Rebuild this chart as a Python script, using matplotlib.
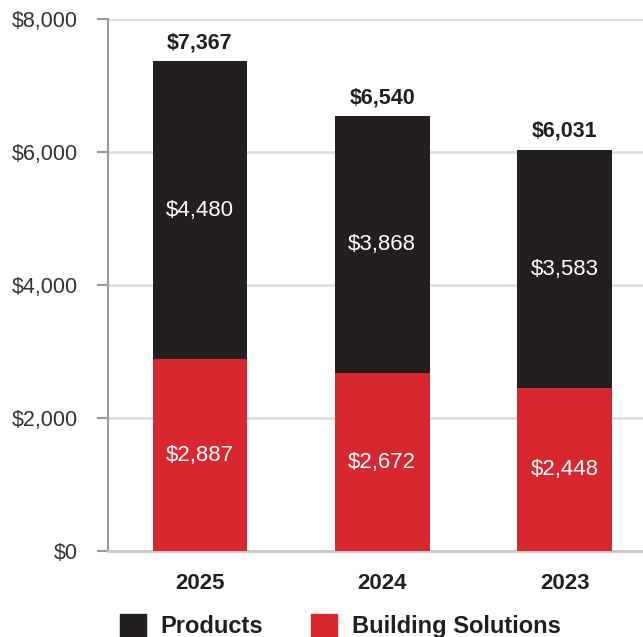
import matplotlib
matplotlib.use('Agg')
from matplotlib import pyplot as plt
from matplotlib.patches import Patch

plt.rcParams['font.family'] = ['Liberation Sans', 'DejaVu Sans']

years = ['2025', '2024', '2023']
building = [2887, 2672, 2448]
products = [4480, 3868, 3583]
totals = [7367, 6540, 6031]

black = '#231f20'
red = '#d7282f'

fig = plt.figure(figsize=(6.43, 6.37), dpi=100)
ax = fig.add_axes([0.168, 0.135, 0.832, 0.835])

x = list(range(len(years)))
ax.bar(x, building, width=0.52, color=red, zorder=3)
ax.bar(x, products, width=0.52, bottom=building, color=black, zorder=3)

for i in x:
    ax.text(i, building[i] / 2, '${:,}'.format(building[i]), color='white',
            ha='center', va='center', fontsize=16, zorder=4)
    ax.text(i, building[i] + products[i] / 2, '${:,}'.format(products[i]),
            color='white', ha='center', va='center', fontsize=16, zorder=4)
    ax.text(i, totals[i] + 280, '${:,}'.format(totals[i]), color=black,
            ha='center', va='center', fontsize=15.5, fontweight='bold')

ax.set_xlim(-0.504, 2.43)
ax.set_ylim(0, 8000)
ax.set_yticks([0, 2000, 4000, 6000, 8000])
ax.set_yticklabels(['${:,}'.format(v) for v in [0, 2000, 4000, 6000, 8000]])
ax.set_xticks(x)
ax.set_xticklabels(years, fontweight='bold', fontsize=16, color=black)

ax.grid(axis='y', color='#dcdcdc', linewidth=1.8, zorder=0)
for s in ['top', 'right']:
    ax.spines[s].set_visible(False)
ax.spines['left'].set_color('#9a9a9a')
ax.spines['left'].set_linewidth(1.5)
ax.spines['bottom'].set_color('#c8c8c8')
ax.spines['bottom'].set_linewidth(2)
ax.tick_params(axis='y', length=8, width=1.5, color='#9a9a9a', pad=14,
               labelsize=15.5, labelcolor='#333333')
ax.tick_params(axis='x', length=0, pad=16)

handles = [Patch(color=black, label='Products'),
           Patch(color=red, label='Building Solutions')]
leg = fig.legend(handles=handles, loc='center', bbox_to_anchor=(0.529, 0.017),
                 ncol=2, frameon=False, handlelength=1.1, handleheight=1.1,
                 columnspacing=2.0, handletextpad=0.64,
                 prop={'weight': 'bold', 'size': 17})
for t in leg.get_texts():
    t.set_color(black)

fig.savefig('out.png', dpi=100)
